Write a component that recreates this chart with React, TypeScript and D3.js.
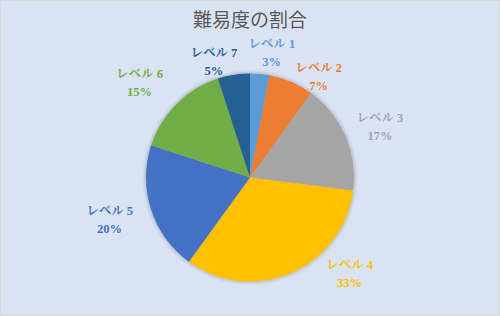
import React from "react";
import * as d3 from "d3";

const categories = ["レベル 1", "レベル 2", "レベル 3", "レベル 4", "レベル 5", "レベル 6", "レベル 7"];
const values = [3, 7, 17, 33, 20, 15, 5];
const percentLabels = ["3%", "7%", "17%", "33%", "20%", "15%", "5%"];
const title = "難易度の割合";

const colors = ["#5B9BD5", "#ED7D31", "#A5A5A5", "#FFC000", "#4472C4", "#70AD47", "#255E91"];
// label layout nudges (pixels) relative to the outer label arc
const nudges: [number, number][] = [
  [9, 9], [15, 22], [6, 2], [46, -28], [-12, 0], [-15, 0], [-15, 17],
];

const W = 500, H = 316;
const cx = 250, cy = 177.5, R = 104, LR = 135;

export default function App() {
  const pie = d3.pie<number>().sort(null).value((d) => d);
  const arcs = pie(values);
  const arc = d3.arc<d3.PieArcDatum<number>>().innerRadius(0).outerRadius(R);
  const labelArc = d3.arc<d3.PieArcDatum<number>>().innerRadius(LR).outerRadius(LR);
  const font = "'Liberation Serif', 'Noto Serif CJK JP', 'Noto Sans CJK JP', serif";
  return (
    <svg width={W} height={H} style={{ position: "absolute", left: 0, top: 0 }}>
      <defs>
        <filter id="sh" x="-20%" y="-20%" width="140%" height="140%">
          <feGaussianBlur in="SourceAlpha" stdDeviation="2" />
          <feOffset dx="0" dy="0" result="b" />
          <feComponentTransfer><feFuncA type="linear" slope="0.35" /></feComponentTransfer>
          <feMerge><feMergeNode /><feMergeNode in="SourceGraphic" /></feMerge>
        </filter>
      </defs>
      <rect x={0.5} y={0.5} width={W - 1} height={H - 1} fill="#DAE3F3" stroke="#D9D9D9" />
      <text x={W / 2} y={27} textAnchor="middle" fontSize={19} fill="#595959"
        fontFamily="'Noto Sans CJK JP', sans-serif">{title}</text>
      <g transform={`translate(${cx},${cy})`}>
        <g filter="url(#sh)">
          {arcs.map((a, i) => (
            <path key={i} d={arc(a) || ""} fill={colors[i]} />
          ))}
        </g>
        {arcs.map((a, i) => {
          const [x, y] = labelArc.centroid(a);
          const lx = x + nudges[i][0];
          const ly = y + nudges[i][1];
          return (
            <text key={i} textAnchor="middle" fill={colors[i]} fontFamily={font}
              fontWeight="bold" fontSize={12.5}>
              <tspan x={lx} y={ly - 4}>{categories[i]}</tspan>
              <tspan x={lx} y={ly + 14}>{percentLabels[i]}</tspan>
            </text>
          );
        })}
      </g>
    </svg>
  );
}
